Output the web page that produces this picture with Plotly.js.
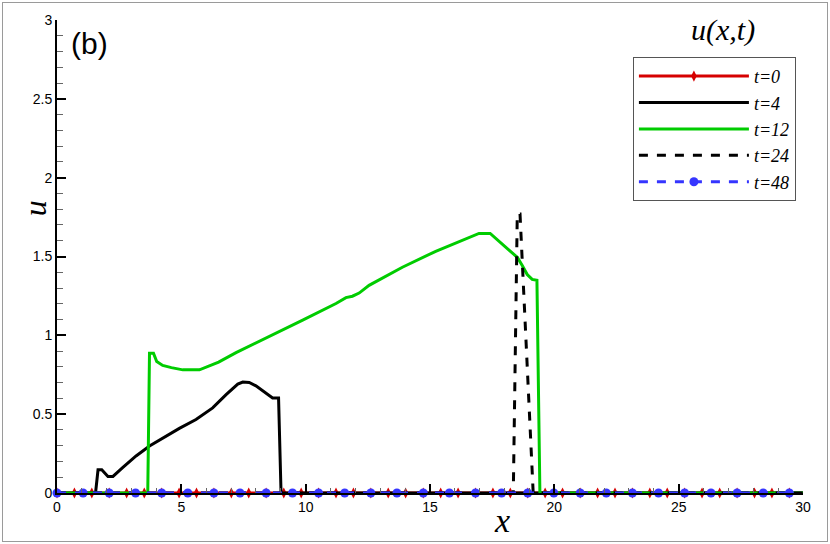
<!DOCTYPE html>
<html>
<head>
<meta charset="utf-8">
<script src="https://cdn.plot.ly/plotly-3.0.1.min.js"></script>
<style>
html,body{margin:0;padding:0;background:#fff;}
#chart{width:830px;height:544px;outline:1px solid #9a9a9a;outline-offset:-3px;}
</style>
</head>
<body>
<div id="chart"></div>
<script>
// ---- data ----
const names = ["t=0", "t=4", "t=12", "t=24", "t=48"];

const x_t0 = [0, 0.70, 1.40, 2.10, 2.80, 3.51, 4.21, 4.91, 5.61, 6.31, 7.01, 7.71, 8.41, 9.12, 9.82,
  10.52, 11.22, 11.92, 12.62, 13.32, 14.02, 14.73, 15.43, 16.13, 16.83, 17.53, 18.23, 18.93, 19.63,
  20.33, 21.04, 21.74, 22.44, 23.14, 23.84, 24.54, 25.24, 25.94, 26.65, 27.35, 28.05, 28.75, 29.45];
const u_t0 = [0, 0, 0, 0, 0, 0, 0, 0, 0, 0, 0, 0, 0, 0, 0, 0, 0, 0, 0, 0, 0, 0,
  0, 0, 0, 0, 0, 0, 0, 0, 0, 0, 0, 0, 0, 0, 0, 0, 0, 0, 0, 0, 0];

const x_t4 = [0, 1.55, 1.65, 1.80, 2.05, 2.25, 2.65, 3.18, 3.72, 4.39, 4.92, 5.59, 6.26, 6.80,
  7.27, 7.47, 7.73, 8.00, 8.40, 8.67, 8.91, 9.01, 30];
const u_t4 = [0, 0, 0.147, 0.147, 0.105, 0.105, 0.162, 0.235, 0.298, 0.361, 0.410, 0.466, 0.540, 0.624,
  0.691, 0.704, 0.701, 0.680, 0.634, 0.603, 0.603, 0, 0];

const x_t12 = [0, 3.65, 3.72, 3.88, 4.01, 4.25, 4.60, 5.06, 5.73, 6.50, 7.20, 8.54, 9.88, 11.22,
  11.62, 11.88, 12.15, 12.55, 13.89, 15.23, 16.57, 16.97, 17.42, 18.00, 18.51, 18.71, 18.91, 19.11,
  19.30, 19.42, 30];
const u_t12 = [0, 0, 0.887, 0.887, 0.834, 0.809, 0.795, 0.781, 0.781, 0.830, 0.890, 0.991, 1.096, 1.202,
  1.239, 1.248, 1.268, 1.317, 1.432, 1.533, 1.621, 1.646, 1.646, 1.566, 1.495, 1.443, 1.386, 1.355,
  1.350, 0, 0];

const x_t24 = [0, 18.35, 18.51, 18.62, 19.15, 30];
const u_t24 = [0, 0, 1.77, 1.77, 0, 0];

const x_t48 = [0, 1.05, 2.10, 3.16, 4.21, 5.26, 6.31, 7.36, 8.41, 9.47, 10.52, 11.57, 12.62, 13.67,
  14.73, 15.78, 16.83, 17.88, 18.93, 19.98, 21.04, 22.09, 23.14, 24.19, 25.24, 26.30, 27.35, 28.40, 29.45];
const u_t48 = [0, 0, 0, 0, 0, 0, 0, 0, 0, 0, 0, 0, 0, 0, 0, 0, 0, 0, 0, 0, 0, 0, 0, 0, 0, 0, 0, 0, 0];

const xTickVals = [0, 5, 10, 15, 20, 25, 30];
const yTickVals = [0, 0.5, 1, 1.5, 2, 2.5, 3];

// ---- styles ----
const RED = "#d60000", GREEN = "#00cc00", BLUE = "#3535ff";

const traces = [
  {x: x_t0, y: u_t0, name: names[0], mode: "lines+markers", cliponaxis: false,
   line: {color: RED, width: 3}, marker: {symbol: "diamond-tall", size: 8, color: RED}},
  {x: x_t4, y: u_t4, name: names[1], mode: "lines", cliponaxis: false,
   line: {color: "#000", width: 3}},
  {x: x_t12, y: u_t12, name: names[2], mode: "lines", cliponaxis: false,
   line: {color: GREEN, width: 3}},
  {x: x_t24, y: u_t24, name: names[3], mode: "lines", cliponaxis: false,
   line: {color: "#000", width: 3, dash: "dash"}},
  {x: x_t48, y: u_t48, name: names[4], mode: "lines+markers", cliponaxis: false,
   line: {color: BLUE, width: 3, dash: "dash"}, marker: {symbol: "circle", size: 9, color: BLUE}}
];

const tickFont = {family: "Liberation Sans, Arial, sans-serif", size: 14, color: "#000"};
const serifI = "Liberation Serif, Times New Roman, serif";

const layout = {
  width: 830, height: 544,
  margin: {l: 57, r: 27, t: 20, b: 51, pad: 0, autoexpand: false},
  paper_bgcolor: "rgba(0,0,0,0)", plot_bgcolor: "rgba(0,0,0,0)",
  showlegend: true,
  xaxis: {
    range: [xTickVals[0], xTickVals[xTickVals.length - 1]],
    tick0: xTickVals[0], dtick: xTickVals[1] - xTickVals[0],
    showline: true, linecolor: "#000", linewidth: 2,
    ticks: "inside", ticklen: 9, tickwidth: 2, tickcolor: "#000",
    minor: {dtick: 1, ticks: "inside", ticklen: 5, tickwidth: 1, tickcolor: "#666"},
    showgrid: false, zeroline: false, tickfont: tickFont
  },
  yaxis: {
    range: [yTickVals[0], yTickVals[yTickVals.length - 1]],
    tick0: yTickVals[0], dtick: yTickVals[1] - yTickVals[0],
    showline: true, linecolor: "#000", linewidth: 2,
    ticks: "inside", ticklen: 9, tickwidth: 2, tickcolor: "#000",
    minor: {dtick: 0.1, ticks: "inside", ticklen: 6, tickwidth: 1, tickcolor: "#666"},
    showgrid: false, zeroline: false, tickfont: tickFont
  },
  legend: {
    x: 0.772, y: 0.922, xanchor: "left", yanchor: "top",
    bgcolor: "#fff", bordercolor: "#555", borderwidth: 1,
    font: {family: serifI, size: 18, color: "#000", style: "italic"},
    itemwidth: 110
  },
  annotations: [
    {text: "(b)", xref: "paper", yref: "paper", x: 0.0429, y: 0.951, xanchor: "center", yanchor: "middle", showarrow: false,
     font: {family: "Liberation Sans, Arial, sans-serif", size: 30, color: "#000"}},
    {text: "u(x,t)", xref: "paper", yref: "paper", x: 0.893, y: 0.979, xanchor: "center", yanchor: "middle", showarrow: false,
     font: {family: serifI, size: 30, color: "#000", style: "italic"}},
    {text: "x", xref: "paper", yref: "paper", x: 0.5965, y: -0.058, xanchor: "center", yanchor: "middle", showarrow: false,
     font: {family: serifI, size: 34, color: "#000", style: "italic"}},
    {text: "u", xref: "paper", yref: "paper", x: -0.0295, y: 0.602, xanchor: "center", yanchor: "middle", showarrow: false, textangle: -90,
     font: {family: serifI, size: 32, color: "#000", style: "italic"}}
  ]
};

Plotly.newPlot("chart", traces, layout, {displayModeBar: false, staticPlot: true});
</script>
</body>
</html>
